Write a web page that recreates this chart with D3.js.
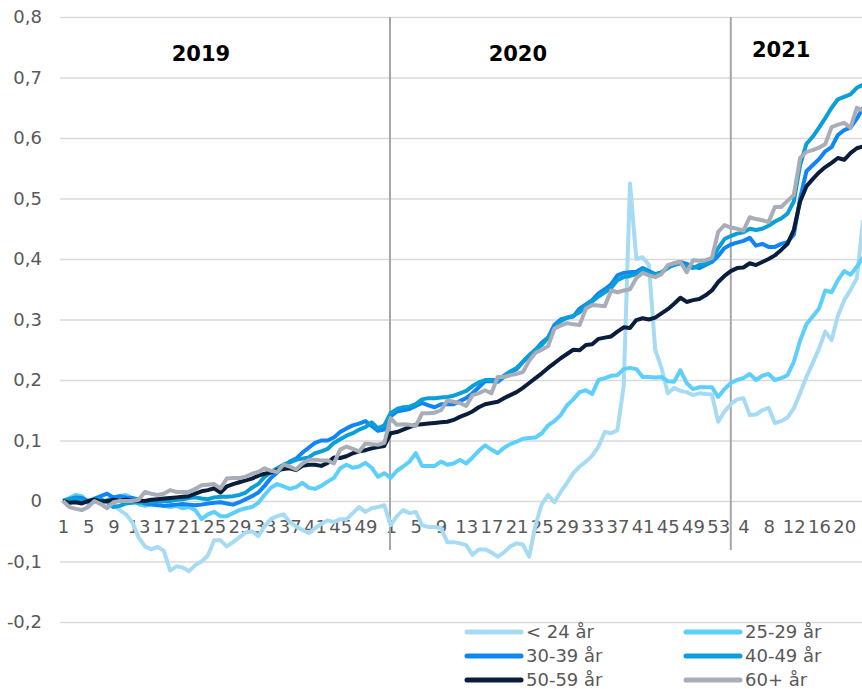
<!DOCTYPE html>
<html>
<head>
<meta charset="utf-8">
<script src="https://cdn.jsdelivr.net/npm/d3@7"></script>
<style>
  body { margin: 0; background: #fff; }
  svg text { font-family: "DejaVu Sans", Verdana, sans-serif; }
</style>
</head>
<body>
<div id="chart"></div>
<script>
// week numbers, one category per week
var weeks2019 = d3.range(1, 53);
var weeks2020 = d3.range(1, 54);
var weeks2021 = d3.range(1, 24);
var weeks = weeks2019.concat(weeks2020, weeks2021);

var years = ["2019", "2020", "2021"];
var yTicks = [-0.2, -0.1, 0, 0.1, 0.2, 0.3, 0.4, 0.5, 0.6, 0.7, 0.8];
var seriesNames = ["< 24 år", "25-29 år", "30-39 år", "40-49 år", "50-59 år", "60+ år"];

var under24 = [
  // 2019
  0, -0.005, 0.008, 0.005, -0.005, 0.003, -0.003, 0.002, -0.006, -0.015,
  -0.022, -0.035, -0.06, -0.075, -0.08, -0.076, -0.082, -0.115, -0.108, -0.11,
  -0.116, -0.106, -0.1, -0.09, -0.065, -0.065, -0.075, -0.068, -0.06, -0.052,
  -0.05, -0.058, -0.042, -0.03, -0.025, -0.022, -0.035, -0.042, -0.048, -0.053,
  -0.045, -0.038, -0.032, -0.035, -0.03, -0.03, -0.02, -0.01, -0.018, -0.012,
  -0.01, -0.007,
  // 2020
  -0.04, -0.025, -0.015, -0.02, -0.018, -0.04, -0.043, -0.043, -0.045, -0.068,
  -0.068, -0.07, -0.073, -0.089, -0.08, -0.08, -0.085, -0.092, -0.085, -0.075,
  -0.07, -0.072, -0.092, -0.04, -0.005, 0.01, -0.002, 0.015, 0.03, 0.046,
  0.057, 0.065, 0.075, 0.09, 0.114, 0.112, 0.117, 0.19, 0.525, 0.4,
  0.403, 0.39, 0.25, 0.22, 0.178, 0.187, 0.182, 0.18, 0.175, 0.178,
  0.177, 0.176, 0.131,
  // 2021
  0.148, 0.16, 0.168, 0.17, 0.142, 0.143, 0.15, 0.154, 0.129, 0.132,
  0.138, 0.153, 0.178, 0.205, 0.228, 0.252, 0.28, 0.266, 0.306, 0.332,
  0.349, 0.368, 0.464
];

var age25_29 = [
  0, 0.005, 0.01, 0.008, -0.003, 0.0, -0.005, 0.002, 0.005, 0.008,
  0.01, 0.005, -0.005, -0.008, -0.005, -0.005, -0.008, -0.01, -0.008, -0.012,
  -0.01, -0.015, -0.03, -0.022, -0.018, -0.025, -0.025, -0.02, -0.015, -0.012,
  -0.01, -0.003, 0.01, 0.022, 0.028, 0.024, 0.02, 0.023, 0.03, 0.022,
  0.02, 0.025, 0.032, 0.038, 0.054, 0.06, 0.055, 0.057, 0.063, 0.055,
  0.04, 0.046,
  0.038, 0.05, 0.057, 0.065, 0.079, 0.058, 0.058, 0.058, 0.065, 0.06,
  0.062, 0.068, 0.062, 0.072, 0.083, 0.092, 0.085, 0.079, 0.088, 0.094,
  0.098, 0.103, 0.104, 0.105, 0.112, 0.125, 0.132, 0.142, 0.158, 0.168,
  0.18, 0.183, 0.177, 0.2, 0.203, 0.207, 0.208, 0.218, 0.22, 0.218,
  0.205, 0.205, 0.204, 0.205, 0.198, 0.197, 0.216, 0.195, 0.185, 0.188,
  0.188, 0.188, 0.172,
  0.185, 0.195, 0.2, 0.203, 0.21, 0.2, 0.207, 0.21, 0.2, 0.203,
  0.208, 0.23, 0.265, 0.292, 0.305, 0.318, 0.348, 0.345, 0.365, 0.38,
  0.374, 0.387, 0.403
];

var age30_39 = [
  0, 0.003, 0.006, 0.005, 0.0, 0.004, 0.008, 0.012, 0.006, 0.008,
  0.006, 0.005, 0.002, -0.004, -0.006, -0.007, -0.008, -0.007, -0.006, -0.005,
  -0.006, -0.007, -0.006, -0.004, -0.003, -0.002, -0.004, -0.006, -0.002, 0.003,
  0.008, 0.014, 0.025, 0.038, 0.047, 0.058, 0.065, 0.07, 0.08, 0.088,
  0.096, 0.1, 0.1, 0.105, 0.114, 0.12, 0.125, 0.128, 0.132, 0.124,
  0.116, 0.118,
  0.14, 0.148, 0.15, 0.152, 0.157, 0.162, 0.158, 0.155, 0.16, 0.16,
  0.16, 0.165, 0.17, 0.178, 0.188, 0.198, 0.198, 0.197, 0.205, 0.213,
  0.218, 0.23, 0.241, 0.25, 0.262, 0.27, 0.291, 0.3, 0.303, 0.305,
  0.318, 0.325, 0.332, 0.343, 0.35, 0.358, 0.373, 0.377, 0.378, 0.379,
  0.385, 0.38, 0.375, 0.378, 0.385, 0.393, 0.395, 0.392, 0.387, 0.385,
  0.39, 0.395, 0.405,
  0.418, 0.424, 0.427, 0.43, 0.435, 0.422, 0.425, 0.42, 0.42, 0.425,
  0.428, 0.44, 0.5, 0.545, 0.555, 0.565, 0.578, 0.585, 0.605, 0.613,
  0.617, 0.632, 0.65
];

var age40_49 = [
  0, 0.002, 0.004, 0.0, -0.002, 0.0, 0.003, -0.002, -0.01, -0.008,
  -0.004, -0.003, -0.002, -0.003, -0.002, 0.0, 0.0, 0.0, 0.002, 0.003,
  0.005, 0.006, 0.004, 0.003, 0.006, 0.007, 0.007, 0.008, 0.01, 0.014,
  0.022, 0.028, 0.04, 0.048, 0.054, 0.06, 0.064, 0.068, 0.07, 0.072,
  0.079, 0.082, 0.086, 0.096, 0.102, 0.108, 0.112, 0.118, 0.122, 0.13,
  0.12, 0.125,
  0.145, 0.152, 0.155, 0.156, 0.16, 0.168, 0.17, 0.17, 0.171, 0.172,
  0.174, 0.178, 0.182, 0.19, 0.196, 0.2, 0.2, 0.2, 0.207, 0.214,
  0.22, 0.23, 0.24, 0.25, 0.258, 0.27, 0.285, 0.297, 0.303, 0.306,
  0.312, 0.322, 0.33, 0.338, 0.345, 0.352, 0.365, 0.37, 0.372, 0.375,
  0.382, 0.378, 0.374, 0.378, 0.386, 0.39, 0.393, 0.388, 0.385, 0.39,
  0.392, 0.398, 0.418,
  0.433, 0.438, 0.442, 0.444, 0.45, 0.448, 0.45, 0.455, 0.462, 0.467,
  0.475, 0.495, 0.555, 0.59, 0.602, 0.617, 0.633, 0.65, 0.664, 0.668,
  0.672, 0.683, 0.688
];

var age50_59 = [
  0, -0.003, -0.002, -0.004, 0.0, 0.002, -0.001, 0.0, 0.002, 0.001,
  0.002, 0.0, 0.001, 0.0, 0.002, 0.003, 0.004, 0.005, 0.006, 0.007,
  0.008, 0.012, 0.016, 0.018, 0.021, 0.014, 0.024, 0.028, 0.031, 0.034,
  0.037, 0.042, 0.045, 0.047, 0.051, 0.053, 0.054, 0.051, 0.058, 0.06,
  0.06, 0.058, 0.063, 0.072, 0.071, 0.074, 0.079, 0.082, 0.084, 0.087,
  0.089, 0.091,
  0.112, 0.114, 0.118, 0.122, 0.126, 0.127, 0.128, 0.129, 0.13, 0.131,
  0.134, 0.139, 0.143, 0.148, 0.155, 0.16, 0.162, 0.164, 0.17, 0.175,
  0.18, 0.187, 0.195, 0.203, 0.211, 0.22, 0.228, 0.236, 0.243, 0.25,
  0.249, 0.258, 0.259, 0.268, 0.27, 0.272, 0.28, 0.287, 0.286, 0.299,
  0.302, 0.3, 0.303, 0.31, 0.317, 0.326, 0.336, 0.329, 0.332, 0.334,
  0.34, 0.348, 0.362,
  0.372, 0.38, 0.385, 0.386, 0.393, 0.39, 0.395, 0.4, 0.406, 0.415,
  0.425, 0.448, 0.495, 0.52, 0.532, 0.543, 0.552, 0.559, 0.567, 0.564,
  0.575, 0.583, 0.586
];

var age60plus = [
  0, -0.01, -0.013, -0.015, -0.01, 0.0, -0.005, -0.012, -0.002, 0.0,
  0.0, 0.0, 0.002, 0.015, 0.012, 0.01, 0.012, 0.018, 0.015, 0.015,
  0.015, 0.02, 0.026, 0.027, 0.028, 0.021, 0.037, 0.038, 0.038, 0.04,
  0.045, 0.048, 0.054, 0.05, 0.048, 0.06, 0.057, 0.052, 0.062, 0.068,
  0.068, 0.067, 0.067, 0.062, 0.085, 0.09, 0.086, 0.082, 0.095, 0.094,
  0.093, 0.096,
  0.137, 0.126, 0.127, 0.126, 0.124, 0.145, 0.145, 0.146, 0.15, 0.166,
  0.164, 0.162, 0.157, 0.175, 0.178, 0.183, 0.178, 0.205, 0.205, 0.208,
  0.21, 0.213, 0.232, 0.245, 0.25, 0.256, 0.285, 0.29, 0.294, 0.292,
  0.291, 0.318, 0.324, 0.323, 0.322, 0.348, 0.345, 0.348, 0.35, 0.368,
  0.377, 0.373, 0.37, 0.375, 0.39, 0.393, 0.395, 0.378, 0.398, 0.397,
  0.398, 0.402, 0.445,
  0.456, 0.452, 0.45, 0.447, 0.469, 0.466, 0.464, 0.461, 0.486, 0.486,
  0.496, 0.506, 0.567, 0.577, 0.58, 0.584, 0.59, 0.618, 0.622, 0.625,
  0.617, 0.65, 0.645
];

var seriesValues = [under24, age25_29, age30_39, age40_49, age50_59, age60plus];
var colors = ["#a6dbf3", "#5ccffb", "#1085f6", "#0a9fd6", "#0a1e3c", "#a9adb7"];

// chart setup
var svgWidth = 862;
var svgHeight = 689;

var svg = d3.select("#chart")
  .append("svg")
  .attr("width", svgWidth)
  .attr("height", svgHeight);

var x = d3.scaleLinear()
  .domain([0, weeks.length - 1])
  .range([63, 63 + 6.3 * (weeks.length - 1)]);

var y = d3.scaleLinear()
  .domain([-0.2, 0.8])
  .range([622, 17]);

var fmt = function(d) { return d === 0 ? "0" : d.toFixed(1).replace(".", ","); };

// y axis with gridlines
var yAxis = svg.append("g")
  .attr("transform", "translate(60,0)")
  .call(d3.axisLeft(y).tickValues(yTicks).tickSize(-(svgWidth - 60)).tickPadding(18).tickFormat(fmt));
yAxis.select(".domain").remove();
yAxis.selectAll(".tick line").attr("stroke", "#d9d9d9").attr("stroke-width", 1.5);
yAxis.selectAll(".tick text").attr("fill", "#595959").style("font-size", "18px");

// x axis labels, every 4th week
var xTickIdx = d3.range(0, weeks.length, 4);
var xAxis = svg.append("g")
  .attr("transform", `translate(0,${y(0)})`)
  .call(d3.axisBottom(x).tickValues(xTickIdx).tickSize(0).tickPadding(19).tickFormat(function(i) { return weeks[i]; }));
xAxis.select(".domain").remove();
xAxis.selectAll(".tick text").attr("fill", "#595959").style("font-size", "18px");

// year separators
[51.9, 106].forEach(function(p) {
  svg.append("line")
    .attr("x1", x(p)).attr("x2", x(p))
    .attr("y1", 17).attr("y2", 550)
    .attr("stroke", "#a6a6a6")
    .attr("stroke-width", 2);
});

// year labels
var yearPos = [[21.9, 61], [72.2, 61], [114, 57]];
years.forEach(function(yr, k) {
  svg.append("text")
    .attr("x", x(yearPos[k][0]))
    .attr("y", yearPos[k][1])
    .attr("text-anchor", "middle")
    .style("font-size", "21px")
    .style("font-weight", "bold")
    .attr("fill", "#000")
    .text(yr);
});

// lines
var line = d3.line()
  .x(function(d, i) { return x(i); })
  .y(function(d) { return y(d); });

seriesValues.forEach(function(vals, k) {
  svg.append("path")
    .datum(vals)
    .attr("d", line)
    .attr("fill", "none")
    .attr("stroke", colors[k])
    .attr("stroke-width", 4)
    .attr("stroke-linejoin", "round");
});

// legend
var legRows = [632, 656, 680];
var legCols = [467, 686];
seriesNames.forEach(function(name, k) {
  var cx = legCols[k % 2];
  var cy = legRows[Math.floor(k / 2)];
  svg.append("line")
    .attr("x1", cx).attr("x2", cx + 54)
    .attr("y1", cy).attr("y2", cy)
    .attr("stroke", colors[k])
    .attr("stroke-width", 5)
    .attr("stroke-linecap", "round");
  svg.append("text")
    .attr("x", cx + 59)
    .attr("y", cy)
    .attr("dy", "0.35em")
    .attr("fill", "#595959")
    .style("font-size", "18px")
    .text(name);
});
</script>
</body>
</html>
